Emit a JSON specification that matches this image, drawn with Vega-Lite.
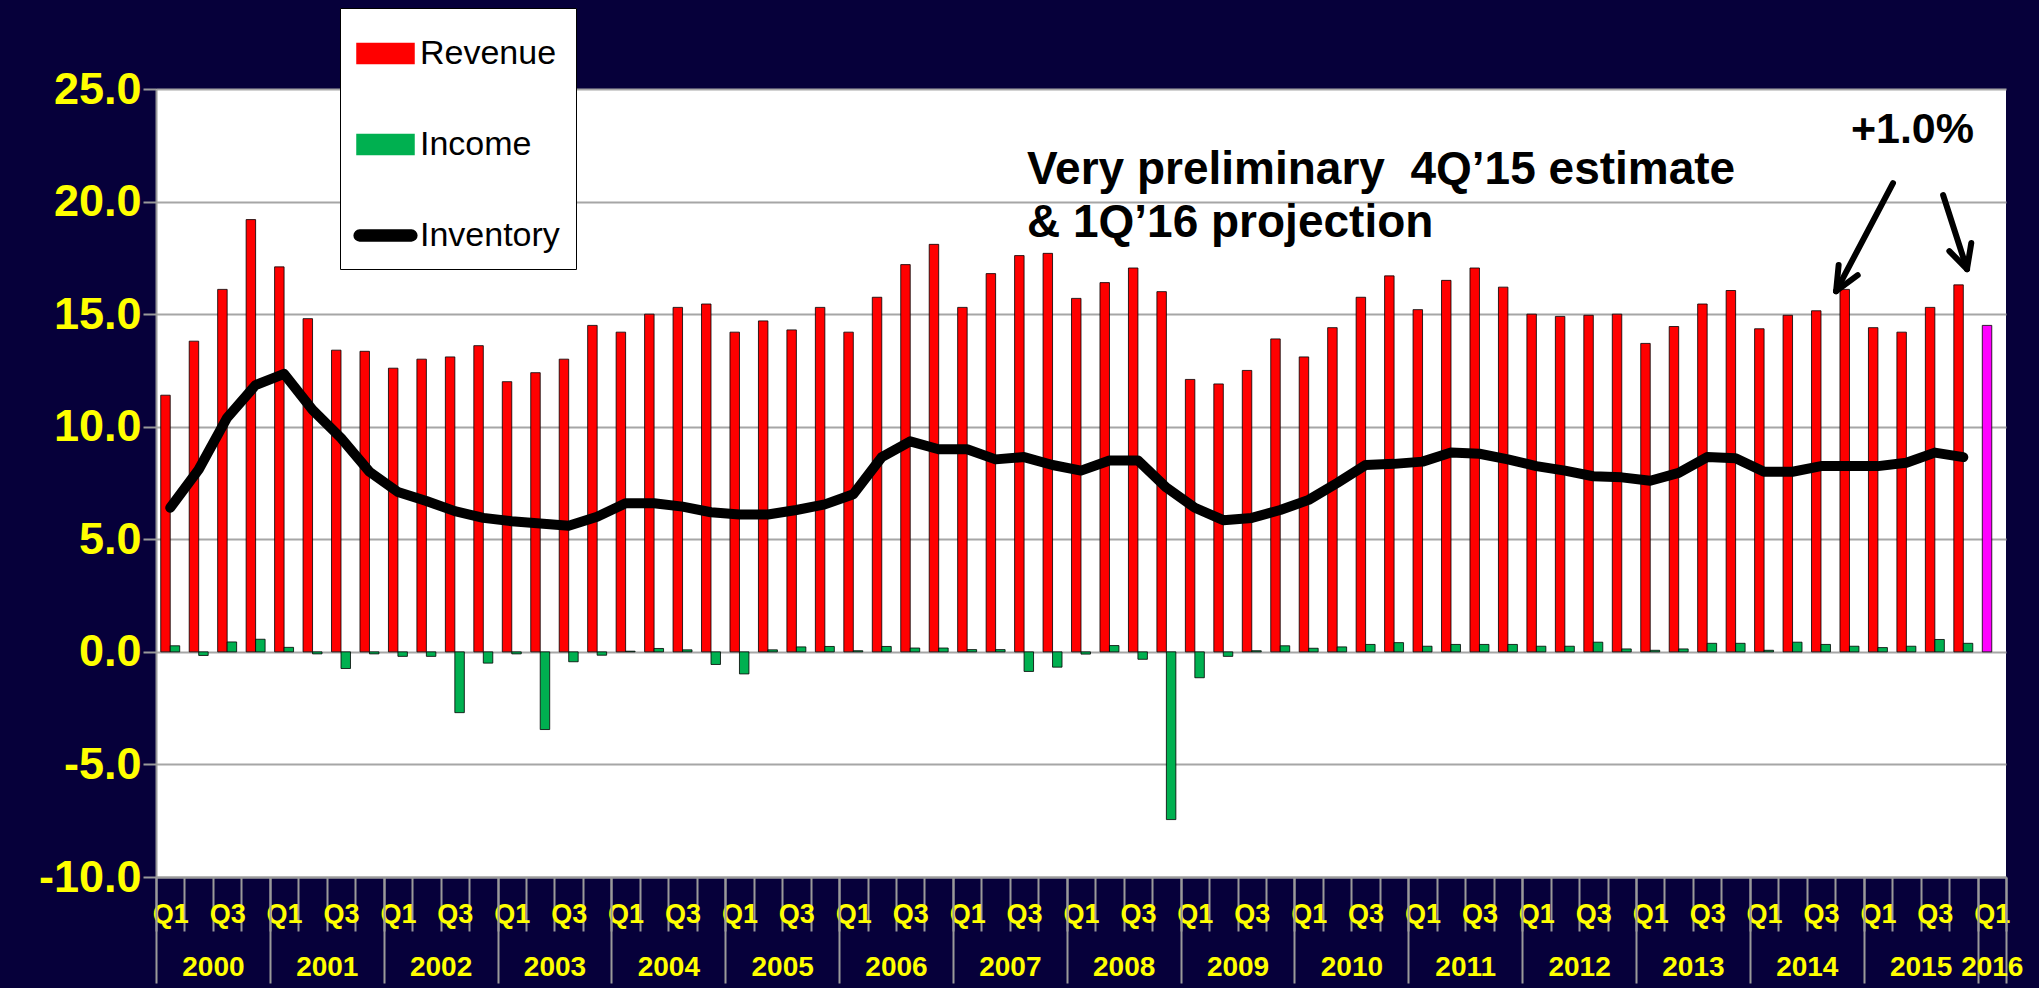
{
  "$schema": "https://vega.github.io/schema/vega-lite/v6.json",
  "width": 1850,
  "height": 788,
  "autosize": {"type": "none"},
  "padding": {"left": 156, "top": 89, "right": 33, "bottom": 111},
  "background": "#06003A",
  "datasets": {
    "main": [
      {"q": "2000 Q1", "Revenue": 11.4, "Income": 0.27, "Inventory": 6.4},
      {"q": "2000 Q2", "Revenue": 13.8, "Income": -0.16, "Inventory": 8.1},
      {"q": "2000 Q3", "Revenue": 16.1, "Income": 0.44, "Inventory": 10.4},
      {"q": "2000 Q4", "Revenue": 19.2, "Income": 0.56, "Inventory": 11.85},
      {"q": "2001 Q1", "Revenue": 17.1, "Income": 0.2, "Inventory": 12.35},
      {"q": "2001 Q2", "Revenue": 14.8, "Income": -0.09, "Inventory": 10.75},
      {"q": "2001 Q3", "Revenue": 13.4, "Income": -0.74, "Inventory": 9.5},
      {"q": "2001 Q4", "Revenue": 13.35, "Income": -0.09, "Inventory": 8.0},
      {"q": "2002 Q1", "Revenue": 12.6, "Income": -0.2, "Inventory": 7.1},
      {"q": "2002 Q2", "Revenue": 13.0, "Income": -0.2, "Inventory": 6.7},
      {"q": "2002 Q3", "Revenue": 13.1, "Income": -2.7, "Inventory": 6.25},
      {"q": "2002 Q4", "Revenue": 13.6, "Income": -0.5, "Inventory": 5.95},
      {"q": "2003 Q1", "Revenue": 12.0, "Income": -0.09, "Inventory": 5.8},
      {"q": "2003 Q2", "Revenue": 12.4, "Income": -3.45, "Inventory": 5.7},
      {"q": "2003 Q3", "Revenue": 13.0, "Income": -0.44, "Inventory": 5.6},
      {"q": "2003 Q4", "Revenue": 14.5, "Income": -0.15, "Inventory": 6.0},
      {"q": "2004 Q1", "Revenue": 14.2, "Income": 0.03, "Inventory": 6.6},
      {"q": "2004 Q2", "Revenue": 15.0, "Income": 0.15, "Inventory": 6.6},
      {"q": "2004 Q3", "Revenue": 15.3, "Income": 0.09, "Inventory": 6.45},
      {"q": "2004 Q4", "Revenue": 15.45, "Income": -0.56, "Inventory": 6.2},
      {"q": "2005 Q1", "Revenue": 14.2, "Income": -0.98, "Inventory": 6.1},
      {"q": "2005 Q2", "Revenue": 14.7, "Income": 0.09, "Inventory": 6.1},
      {"q": "2005 Q3", "Revenue": 14.3, "Income": 0.22, "Inventory": 6.3},
      {"q": "2005 Q4", "Revenue": 15.3, "Income": 0.24, "Inventory": 6.55},
      {"q": "2006 Q1", "Revenue": 14.2, "Income": 0.05, "Inventory": 7.0},
      {"q": "2006 Q2", "Revenue": 15.75, "Income": 0.24, "Inventory": 8.65},
      {"q": "2006 Q3", "Revenue": 17.2, "Income": 0.17, "Inventory": 9.35},
      {"q": "2006 Q4", "Revenue": 18.1, "Income": 0.17, "Inventory": 9.0},
      {"q": "2007 Q1", "Revenue": 15.3, "Income": 0.1, "Inventory": 9.0},
      {"q": "2007 Q2", "Revenue": 16.8, "Income": 0.1, "Inventory": 8.55},
      {"q": "2007 Q3", "Revenue": 17.6, "Income": -0.87, "Inventory": 8.65},
      {"q": "2007 Q4", "Revenue": 17.7, "Income": -0.68, "Inventory": 8.3},
      {"q": "2008 Q1", "Revenue": 15.7, "Income": -0.1, "Inventory": 8.05},
      {"q": "2008 Q2", "Revenue": 16.4, "Income": 0.28, "Inventory": 8.5},
      {"q": "2008 Q3", "Revenue": 17.05, "Income": -0.33, "Inventory": 8.5},
      {"q": "2008 Q4", "Revenue": 16.0, "Income": -7.45, "Inventory": 7.3},
      {"q": "2009 Q1", "Revenue": 12.1, "Income": -1.15, "Inventory": 6.4},
      {"q": "2009 Q2", "Revenue": 11.9, "Income": -0.2, "Inventory": 5.85},
      {"q": "2009 Q3", "Revenue": 12.5, "Income": 0.05, "Inventory": 5.95},
      {"q": "2009 Q4", "Revenue": 13.9, "Income": 0.27, "Inventory": 6.3},
      {"q": "2010 Q1", "Revenue": 13.1, "Income": 0.16, "Inventory": 6.75},
      {"q": "2010 Q2", "Revenue": 14.4, "Income": 0.22, "Inventory": 7.5},
      {"q": "2010 Q3", "Revenue": 15.75, "Income": 0.33, "Inventory": 8.3},
      {"q": "2010 Q4", "Revenue": 16.7, "Income": 0.41, "Inventory": 8.35},
      {"q": "2011 Q1", "Revenue": 15.2, "Income": 0.25, "Inventory": 8.45},
      {"q": "2011 Q2", "Revenue": 16.5, "Income": 0.33, "Inventory": 8.85},
      {"q": "2011 Q3", "Revenue": 17.05, "Income": 0.33, "Inventory": 8.8},
      {"q": "2011 Q4", "Revenue": 16.2, "Income": 0.33, "Inventory": 8.55},
      {"q": "2012 Q1", "Revenue": 15.0, "Income": 0.25, "Inventory": 8.25},
      {"q": "2012 Q2", "Revenue": 14.9, "Income": 0.25, "Inventory": 8.05},
      {"q": "2012 Q3", "Revenue": 14.95, "Income": 0.43, "Inventory": 7.8},
      {"q": "2012 Q4", "Revenue": 15.0, "Income": 0.13, "Inventory": 7.75},
      {"q": "2013 Q1", "Revenue": 13.7, "Income": 0.07, "Inventory": 7.6},
      {"q": "2013 Q2", "Revenue": 14.45, "Income": 0.13, "Inventory": 7.95},
      {"q": "2013 Q3", "Revenue": 15.45, "Income": 0.38, "Inventory": 8.65},
      {"q": "2013 Q4", "Revenue": 16.05, "Income": 0.38, "Inventory": 8.6},
      {"q": "2014 Q1", "Revenue": 14.35, "Income": 0.07, "Inventory": 8.0},
      {"q": "2014 Q2", "Revenue": 14.95, "Income": 0.43, "Inventory": 8.0},
      {"q": "2014 Q3", "Revenue": 15.15, "Income": 0.33, "Inventory": 8.25},
      {"q": "2014 Q4", "Revenue": 16.1, "Income": 0.25, "Inventory": 8.25},
      {"q": "2015 Q1", "Revenue": 14.4, "Income": 0.19, "Inventory": 8.25},
      {"q": "2015 Q2", "Revenue": 14.2, "Income": 0.25, "Inventory": 8.4},
      {"q": "2015 Q3", "Revenue": 15.3, "Income": 0.55, "Inventory": 8.85},
      {"q": "2015 Q4", "Revenue": 16.3, "Income": 0.38, "Inventory": 8.65},
      {"q": "2016 Q1", "Revenue": 14.5}
    ],
    "notes": [
      {"t": 30.6, "value": 20.78, "label": "Very preliminary\u00a0 4Q\u201915 estimate"},
      {"t": 30.6, "value": 18.42, "label": "& 1Q\u201916 projection"}
    ],
    "pct": [
      {"t": 59.55, "value": 22.6, "label": "+1.0%"}
    ],
    "arrows": [
      {"t": 61.03, "value": 20.82, "t2": 59.03, "value2": 16.02},
      {"t": 59.03, "value": 16.02, "t2": 59.12, "value2": 17.18},
      {"t": 59.03, "value": 16.02, "t2": 59.79, "value2": 16.73},
      {"t": 62.79, "value": 20.29, "t2": 63.63, "value2": 17.0},
      {"t": 63.63, "value": 17.0, "t2": 63.01, "value2": 17.8},
      {"t": 63.63, "value": 17.0, "t2": 63.78, "value2": 18.16}
    ]
  },
  "layer": [
    {
      "data": {"name": "main"},
      "transform": [
        {"fold": ["Revenue"], "as": ["series", "value"]},
        {"filter": "isValid(datum.value)"}
      ],
      "mark": {"type": "bar", "width": {"band": 0.3333}, "xOffset": -4.74, "stroke": "#000000", "strokeWidth": 1, "strokeOpacity": 0.8},
      "encoding": {
        "x": {
          "field": "q", "type": "nominal", "title": null,
          "scale": {"type": "band", "paddingInner": 0, "paddingOuter": 0},
          "axis": {
            "orient": "bottom", "tickBand": "extent", "tickSize": 54,
            "tickColor": "#9A9A9A", "tickWidth": 2,
            "domain": true, "domainColor": "#9A9A9A", "domainWidth": 2,
            "grid": false, "labelAngle": 0, "labelColor": "#FFFF00",
            "labelFont": "Liberation Sans", "labelFontSize": 27, "labelFontWeight": "bold",
            "labelPadding": -30, "labelOverlap": false, "labelBound": false, "labelFlush": false,
            "labelExpr": "datum.label && (slice(datum.label, 5) === 'Q1' || slice(datum.label, 5) === 'Q3') ? slice(datum.label, 5) : ''"
          }
        },
        "y": {
          "field": "value", "type": "quantitative", "title": null,
          "scale": {"domain": [-10, 25], "nice": false, "zero": false},
          "axis": {
            "values": [-10, -5, 0, 5, 10, 15, 20, 25],
            "labelExpr": "replace(format(datum.value, '.1f'), '\u2212', '-')",
            "labelColor": "#FFFF00", "labelFont": "Liberation Sans", "labelFontSize": 45,
            "labelFontWeight": "bold", "labelPadding": 2,
            "tickSize": 13, "tickColor": "#9A9A9A", "tickWidth": 2,
            "domainColor": "#9A9A9A", "domainWidth": 2,
            "grid": true, "gridColor": "#A6A6A6", "gridWidth": 2,
            "labelFlush": false, "labelOverlap": false, "labelBound": false
          }
        },
        "color": {
          "condition": {"test": "datum.q === '2016 Q1'", "value": "#FF00FF"},
          "field": "series", "type": "nominal",
          "scale": {"domain": ["Revenue", "Income", "Inventory"], "range": ["#FF0000", "#00B050", "#000000"]},
          "legend": {
            "title": null, "orient": "none", "legendX": 184, "legendY": -81,
            "direction": "vertical",
            "fillColor": "#FFFFFF", "strokeColor": "#000000",
            "padding": 16, "rowPadding": 44,
            "symbolSize": 3249, "symbolType": "M-1,-0.35H1V0.35H-1Z",
            "symbolStrokeColor": "#000000", "symbolStrokeWidth": 1.5,
            "labelFont": "Liberation Sans", "labelFontSize": 34, "labelColor": "#000000",
            "labelOffset": 5, "labelLimit": 400,
            "encode": {
              "symbols": {
                "update": {
                  "shape": [
                    {"test": "datum.value === 'Inventory'", "value": "M-0.91,-0.19H0.91A0.19,0.19 0 0 1 0.91,0.19H-0.91A0.19,0.19 0 0 1 -0.91,-0.19Z"},
                    {"value": "M-1,-0.35H1V0.35H-1Z"}
                  ]
                }
              }
            }
          }
        }
      }
    },
    {
      "data": {"name": "main"},
      "transform": [
        {"fold": ["Income"], "as": ["series", "value"]},
        {"filter": "isValid(datum.value)"}
      ],
      "mark": {"type": "bar", "width": {"band": 0.3333}, "xOffset": 4.74, "stroke": "#000000", "strokeWidth": 1, "strokeOpacity": 0.8},
      "encoding": {
        "x": {
          "field": "q", "type": "nominal", "title": null,
          "scale": {"type": "band", "paddingInner": 0, "paddingOuter": 0,
            "domain": ["2000 Q1","2000 Q2","2000 Q3","2000 Q4","2001 Q1","2001 Q2","2001 Q3","2001 Q4","2002 Q1","2002 Q2","2002 Q3","2002 Q4","2003 Q1","2003 Q2","2003 Q3","2003 Q4","2004 Q1","2004 Q2","2004 Q3","2004 Q4","2005 Q1","2005 Q2","2005 Q3","2005 Q4","2006 Q1","2006 Q2","2006 Q3","2006 Q4","2007 Q1","2007 Q2","2007 Q3","2007 Q4","2008 Q1","2008 Q2","2008 Q3","2008 Q4","2009 Q1","2009 Q2","2009 Q3","2009 Q4","2010 Q1","2010 Q2","2010 Q3","2010 Q4","2011 Q1","2011 Q2","2011 Q3","2011 Q4","2012 Q1","2012 Q2","2012 Q3","2012 Q4","2013 Q1","2013 Q2","2013 Q3","2013 Q4","2014 Q1","2014 Q2","2014 Q3","2014 Q4","2015 Q1","2015 Q2","2015 Q3","2015 Q4","2016 Q1"]},
          "axis": null
        },
        "y": {
          "field": "value", "type": "quantitative", "title": null,
          "scale": {"domain": [-10, 25], "nice": false, "zero": false}
        },
        "color": {"field": "series", "type": "nominal"}
      }
    },
    {
      "data": {"name": "main"},
      "transform": [
        {"fold": ["Inventory"], "as": ["series", "value"]},
        {"filter": "isValid(datum.value)"}
      ],
      "mark": {"type": "line", "strokeWidth": 10, "strokeJoin": "round", "strokeCap": "round"},
      "encoding": {
        "x": {
          "field": "q", "type": "nominal", "title": null,
          "scale": {"type": "band", "paddingInner": 0, "paddingOuter": 0,
            "domain": ["2000 Q1","2000 Q2","2000 Q3","2000 Q4","2001 Q1","2001 Q2","2001 Q3","2001 Q4","2002 Q1","2002 Q2","2002 Q3","2002 Q4","2003 Q1","2003 Q2","2003 Q3","2003 Q4","2004 Q1","2004 Q2","2004 Q3","2004 Q4","2005 Q1","2005 Q2","2005 Q3","2005 Q4","2006 Q1","2006 Q2","2006 Q3","2006 Q4","2007 Q1","2007 Q2","2007 Q3","2007 Q4","2008 Q1","2008 Q2","2008 Q3","2008 Q4","2009 Q1","2009 Q2","2009 Q3","2009 Q4","2010 Q1","2010 Q2","2010 Q3","2010 Q4","2011 Q1","2011 Q2","2011 Q3","2011 Q4","2012 Q1","2012 Q2","2012 Q3","2012 Q4","2013 Q1","2013 Q2","2013 Q3","2013 Q4","2014 Q1","2014 Q2","2014 Q3","2014 Q4","2015 Q1","2015 Q2","2015 Q3","2015 Q4","2016 Q1"]},
          "axis": {
            "orient": "bottom", "tickBand": "extent", "domain": false, "grid": false,
            "tickSize": 106, "tickColor": "#9A9A9A", "tickWidth": 2,
            "tickOpacity": {"condition": {"test": "!datum.value || slice(datum.value, 5) === 'Q4' || datum.value === '2016 Q1'", "value": 1}, "value": 0},
            "labelAngle": 0, "labelColor": "#FFFF00", "labelFont": "Liberation Sans",
            "labelFontSize": 28, "labelFontWeight": "bold", "labelPadding": -30,
            "labelOffset": {"condition": {"test": "datum.value === '2016 Q1'", "value": 0}, "value": 14.23},
            "labelOverlap": false, "labelBound": false, "labelFlush": false,
            "labelExpr": "datum.label && (slice(datum.label, 5) === 'Q2' || datum.label === '2016 Q1') ? slice(datum.label, 0, 4) : ''"
          }
        },
        "y": {
          "field": "value", "type": "quantitative", "title": null,
          "scale": {"domain": [-10, 25], "nice": false, "zero": false}
        },
        "color": {"field": "series", "type": "nominal"}
      }
    },
    {
      "data": {"name": "notes"},
      "mark": {"type": "text", "align": "left", "baseline": "alphabetic", "font": "Liberation Sans", "fontWeight": "bold", "fontSize": 46, "color": "#000000"},
      "encoding": {
        "x": {"field": "t", "type": "quantitative", "scale": {"domain": [0, 65], "nice": false, "zero": false}, "axis": null},
        "y": {"field": "value", "type": "quantitative", "title": null, "scale": {"domain": [-10, 25], "nice": false, "zero": false}},
        "text": {"field": "label"}
      }
    },
    {
      "data": {"name": "pct"},
      "mark": {"type": "text", "align": "left", "baseline": "alphabetic", "font": "Liberation Sans", "fontWeight": "bold", "fontSize": 43, "color": "#000000"},
      "encoding": {
        "x": {"field": "t", "type": "quantitative", "scale": {"domain": [0, 65], "nice": false, "zero": false}, "axis": null},
        "y": {"field": "value", "type": "quantitative", "title": null, "scale": {"domain": [-10, 25], "nice": false, "zero": false}},
        "text": {"field": "label"}
      }
    },
    {
      "data": {"name": "arrows"},
      "mark": {"type": "rule", "strokeWidth": 6, "strokeCap": "round", "color": "#000000"},
      "encoding": {
        "x": {"field": "t", "type": "quantitative", "scale": {"domain": [0, 65], "nice": false, "zero": false}, "axis": null},
        "x2": {"field": "t2"},
        "y": {"field": "value", "type": "quantitative", "title": null, "scale": {"domain": [-10, 25], "nice": false, "zero": false}},
        "y2": {"field": "value2"}
      }
    }
  ],
  "resolve": {"scale": {"x": "independent"}, "axis": {"x": "independent"}},
  "config": {
    "view": {"fill": "#FFFFFF", "stroke": null},
    "font": "Liberation Sans"
  }
}
